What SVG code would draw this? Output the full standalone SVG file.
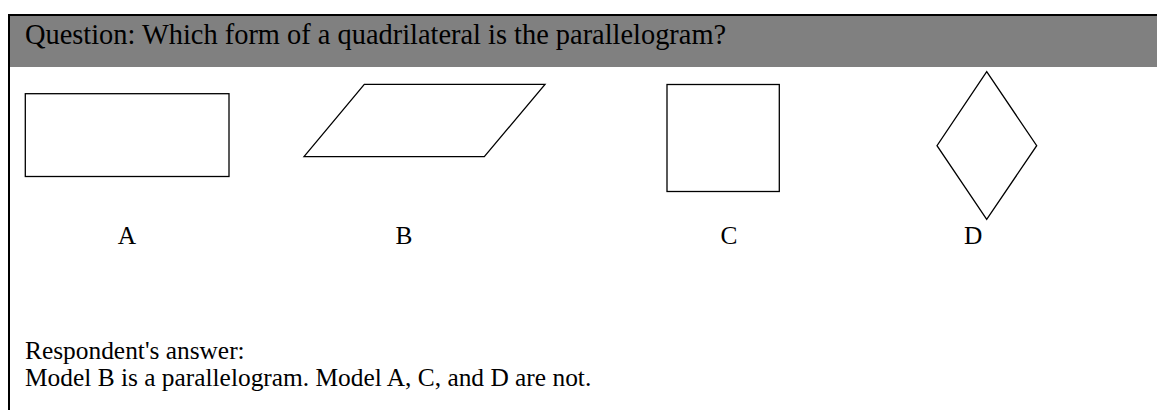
<svg xmlns="http://www.w3.org/2000/svg" width="1157" height="410" viewBox="0 0 1157 410">
<style>
.t{font-family:"Liberation Serif","Times New Roman",serif;font-size:25.4px;fill:#000}
.h{font-size:28.4px}
.s{fill:none;stroke:#000;stroke-width:1.3}
</style>
<rect x="0" y="0" width="1157" height="410" fill="#fff"/>
<rect x="9" y="15" width="1148" height="52" fill="#808080"/>
<line x1="8" y1="15" x2="1157" y2="15" stroke="#000" stroke-width="2"/>
<line x1="9" y1="14" x2="9" y2="410" stroke="#000" stroke-width="2"/>
<text class="t h" x="25" y="44">Question: Which form of a quadrilateral is the parallelogram?</text>
<g id="shapeA"><rect class="s" x="25.3" y="93.7" width="203.7" height="82.8"/><text class="t" x="127" y="244" text-anchor="middle">A</text></g>
<g id="shapeB"><polygon class="s" points="304,156.7 364.3,84.3 545,84.3 484.3,156.7"/><text class="t" x="404" y="244" text-anchor="middle">B</text></g>
<g id="shapeC"><rect class="s" x="667" y="84.5" width="112.3" height="107"/><text class="t" x="729" y="244" text-anchor="middle">C</text></g>
<g id="shapeD"><polygon class="s" points="986.7,71.7 1036.7,145.7 986.7,219.3 937,145.7"/><text class="t" x="964" y="244" text-anchor="start">D</text></g>
<text class="t" x="25" y="359">Respondent's answer:</text>
<text class="t" x="25" y="386">Model B is a parallelogram. Model A, C, and D are not.</text>
</svg>
